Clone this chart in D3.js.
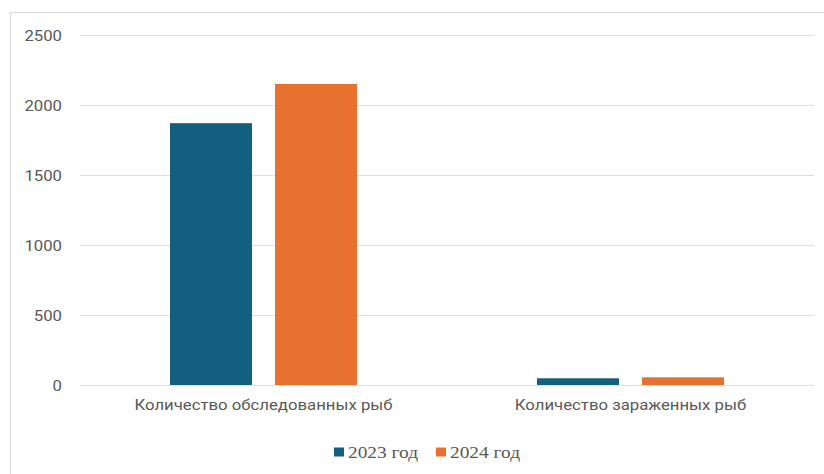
<!DOCTYPE html>
<html>
<head>
<meta charset="utf-8">
<script src="https://cdn.jsdelivr.net/npm/d3@7"></script>
<style>
  html, body { margin: 0; padding: 0; background: #fff; }
  svg { display: block; }
</style>
</head>
<body>
<svg id="chart" width="824" height="474"></svg>
<script>
// Fish examined vs. infected, by year
const categories = ["Количество обследованных рыб", "Количество зараженных рыб"];
const seriesNames = ["2023 год", "2024 год"];
const values2023 = [1870, 48];
const values2024 = [2150, 55];
const yTicks = [0, 500, 1000, 1500, 2000, 2500];
const colors = ["#145e80", "#e77230"];

const svg = d3.select("#chart");
const W = 824, H = 474;
const plot = { left: 80, right: 814, top: 35, bottom: 385 };
const sansFont = "Roboto, 'Liberation Sans', sans-serif";
const textGray = "#595959";
// text in this chart is drawn slightly wider than its natural width
const stretch = 1.08;

// chart frame
svg.append("rect")
  .attr("x", 10.5).attr("y", 12.5)
  .attr("width", W + 10).attr("height", H + 10)
  .attr("fill", "#fff").attr("stroke", "#d9d9d9").attr("stroke-width", 1);

const x0 = d3.scaleBand().domain(categories).range([plot.left, plot.right]);
const bandW = x0.bandwidth();
const barW = 82, gap = 23;
const x1 = d3.scaleOrdinal().domain(seriesNames).range([-(barW + gap / 2), gap / 2]);
const y = d3.scaleLinear().domain([0, 2500]).range([plot.bottom, plot.top]);

// gridlines
svg.append("g").selectAll("line").data(yTicks).join("line")
  .attr("x1", plot.left).attr("x2", plot.right)
  .attr("y1", d => Math.round(y(d)) + 0.5).attr("y2", d => Math.round(y(d)) + 0.5)
  .attr("stroke", "#dedede").attr("stroke-width", 1.2);

// y axis labels
const yAxis = d3.axisLeft(y).tickValues(yTicks).tickFormat(d3.format("d")).tickSize(0).tickPadding(0);
const gy = svg.append("g").attr("transform", `translate(62,0)`).call(yAxis);
gy.select(".domain").remove();
gy.selectAll(".tick text")
  .attr("font-family", sansFont)
  .attr("font-size", 15.5).attr("fill", textGray).attr("dy", "0.35em")
  .attr("transform", `scale(${stretch},1)`)
  .attr("x", 0);

// bars
const rows = categories.map((c, i) => ({ cat: c, vals: [values2023[i], values2024[i]] }));
const groups = svg.append("g").selectAll("g").data(rows).join("g")
  .attr("transform", d => `translate(${x0(d.cat) + bandW / 2},0)`);
groups.selectAll("rect")
  .data(d => d.vals.map((v, j) => ({ name: seriesNames[j], v, j })))
  .join("rect")
  .attr("x", d => x1(d.name))
  .attr("width", barW)
  .attr("y", d => y(d.v))
  .attr("height", d => y(0) - y(d.v))
  .attr("fill", d => colors[d.j]);

// category axis labels
const xAxis = d3.axisBottom(x0).tickSize(0).tickPadding(0);
const gx = svg.append("g").attr("transform", `translate(0,${plot.bottom})`).call(xAxis);
gx.select(".domain").remove();
gx.selectAll(".tick text")
  .attr("font-family", sansFont)
  .attr("font-size", 15.5).attr("fill", textGray)
  .attr("y", 0).attr("dy", "25")
  .attr("transform", `scale(${stretch},1)`);

// legend
const legendX = [334, 436];
const legend = svg.append("g").selectAll("g").data(seriesNames).join("g")
  .attr("transform", (d, i) => `translate(${legendX[i]},452)`);
legend.append("rect")
  .attr("x", 0).attr("y", -4.5).attr("width", 10).attr("height", 9)
  .attr("fill", (d, i) => colors[i]);
legend.append("text")
  .attr("x", 14).attr("y", 0).attr("dy", "0.35em")
  .attr("font-family", "'Liberation Serif', 'Times New Roman', serif")
  .attr("font-size", 17).attr("fill", textGray)
  .attr("textLength", 70).attr("lengthAdjust", "spacingAndGlyphs")
  .text(d => d);
</script>
</body>
</html>
